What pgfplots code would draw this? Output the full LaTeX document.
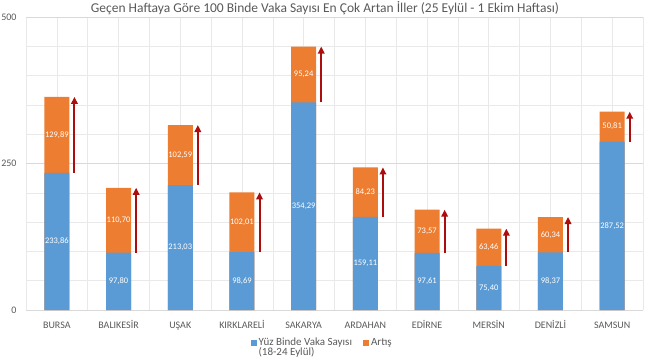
\documentclass[border=0pt]{standalone}
\usepackage{fontspec}
\setmainfont{Carlito}
\usepackage{pgfplots}
\pgfplotsset{compat=1.18}
\usepackage{pgfplotstable}
\usetikzlibrary{arrows.meta}
\definecolor{cblue}{HTML}{5B9BD5}
\definecolor{corange}{HTML}{ED7D31}
\definecolor{cred}{HTML}{AC0D0D}
\definecolor{ctext}{HTML}{595959}
\definecolor{cgrid}{HTML}{D9D9D9}
\definecolor{cgridl}{HTML}{E9E9E9}

\pgfplotstableread{
x b a
0 233.86 129.89
1 97.80 110.70
2 213.03 102.59
3 98.69 102.01
4 354.29 95.24
5 159.11 84.23
6 97.61 73.57
7 75.40 63.46
8 98.37 60.34
9 287.52 50.81
}\data

\begin{document}
\begin{tikzpicture}
\begin{axis}[
  at={(26pt,50pt)}, anchor=south west, scale only axis,
  width=617pt, height=293pt,
  xmin=-0.5, xmax=9.5, ymin=0, ymax=500,
  xtick={0,...,9},
  xticklabels={BURSA,BALIKESİR,UŞAK,KIRKLARELİ,SAKARYA,ARDAHAN,EDİRNE,MERSİN,DENİZLİ,SAMSUN},
  minor xtick={-0.5,0.5,...,9.5},
  ytick={0,250,500}, yticklabels={0,250,500},
  minor ytick={50,100,...,450},
  xmajorgrids, xminorgrids, ymajorgrids, yminorgrids,
  major x grid style={cgridl, line width=0.6pt},
  minor x grid style={cgridl, line width=0.6pt},
  major y grid style={cgrid, line width=0.6pt},
  minor y grid style={cgridl, line width=0.6pt},
  axis line style={draw=none},
  major tick length=0pt, minor tick length=0pt,
  tick label style={font=\fontsize{10}{11}\selectfont, text=ctext},
  xticklabel style={text height=7pt, yshift=-8pt},
  yticklabel style={xshift=-6pt},
  /pgf/number format/.cd, fixed, fixed zerofill, precision=2, use comma, assume math mode=true,
  /pgfplots/.cd,
  title={Geçen Haftaya Göre 100 Binde Vaka Sayısı En Çok Artan İller (25 Eylül - 1 Ekim Haftası)},
  title style={at={(0.5,1)}, anchor=base, yshift=-1pt, xshift=-9.5pt,
    font=\fontsize{13.5}{15}\selectfont, text=ctext},
  legend image code/.code={\fill[#1] (0pt,0pt) rectangle (6pt,6pt);},
  legend style={at={(0.48,0)}, anchor=north, yshift=-24pt, draw=none, fill=none,
    font=\fontsize{11}{10.5}\selectfont, text=ctext, legend columns=2,
    /tikz/every even column/.append style={column sep=9pt},
    cells={anchor=base west}},
]
\addlegendimage{fill=cblue, draw=none}
\addlegendentry{\begin{tabular}[t]{@{}l@{}}Yüz Binde Vaka Sayısı\\[-1.5pt](18-24 Eylül)\end{tabular}}
\addlegendimage{fill=corange, draw=none}
\addlegendentry{Artış}

\addplot[ybar, bar width=25pt, bar shift=0pt, fill=corange, draw=none, forget plot]
  table[x=x, y expr=\thisrow{b}+\thisrow{a}] {\data};
\addplot[ybar, bar width=25pt, bar shift=0pt, fill=cblue, draw=none, forget plot]
  table[x=x, y=b] {\data};

\addplot[only marks, mark=none, forget plot, nodes near coords, point meta=explicit,
  every node near coord/.append style={anchor=center, text=white, font=\fontsize{8.5}{9}\selectfont}]
  table[x=x, y expr=\thisrow{b}/2, meta=b] {\data};
\addplot[only marks, mark=none, forget plot, nodes near coords, point meta=explicit,
  every node near coord/.append style={anchor=center, text=white, font=\fontsize{8.5}{9}\selectfont}]
  table[x=x, y expr=\thisrow{b}+\thisrow{a}/2, meta=a] {\data};

\addplot[forget plot, no markers, cred, line width=2pt,
  quiver={u=0, v=\thisrow{a},
    every arrow/.append style={-{Triangle[width=6.5pt,length=7pt]}}}]
  table[x expr=\thisrow{x}+0.285, y=b] {\data};
\end{axis}
\pgfresetboundingbox
\path[use as bounding box] (0,0) rectangle (650pt,360pt);
\end{tikzpicture}
\end{document}
